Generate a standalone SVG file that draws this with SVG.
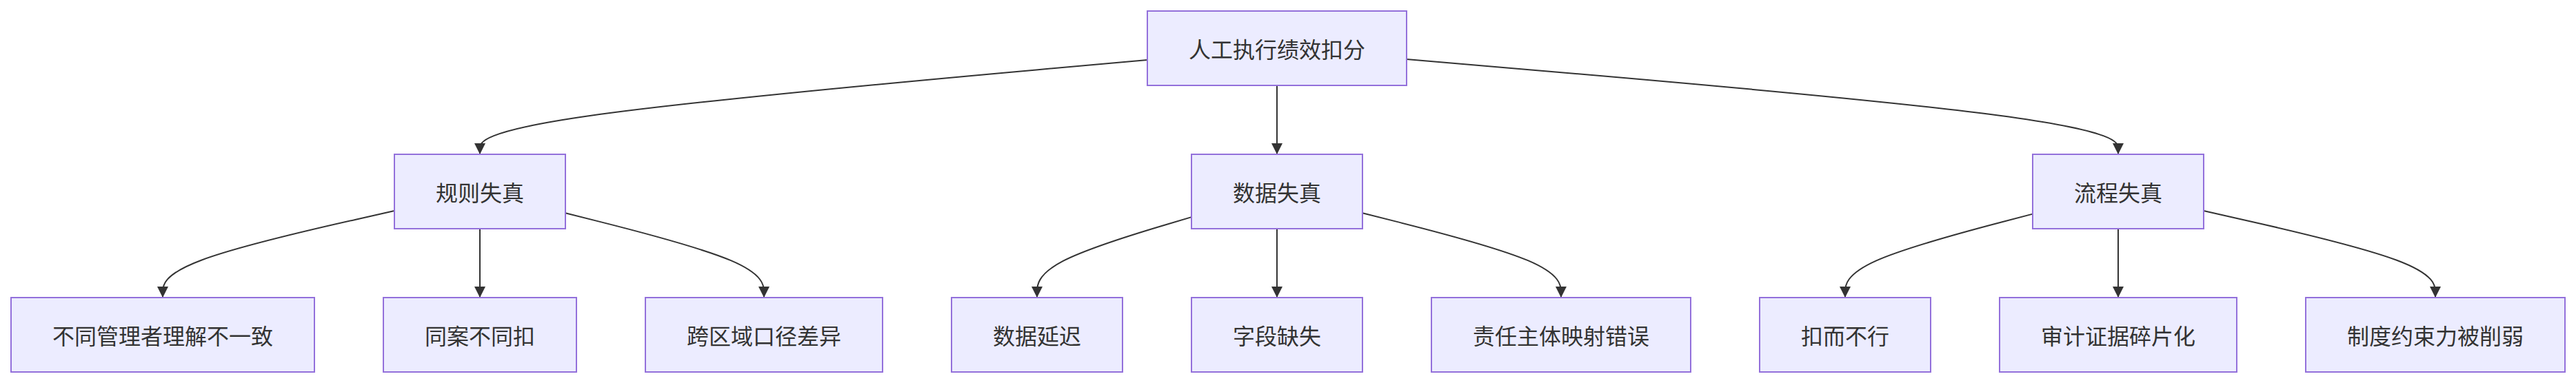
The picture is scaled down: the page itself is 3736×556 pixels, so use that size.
<svg xmlns="http://www.w3.org/2000/svg" width="3736" height="556" viewBox="0 0 3736 556">
<style>
.node rect{fill:#ECECFF;stroke:#9370DB;stroke-width:2}
.node text{font-family:"Noto Sans CJK SC","Noto Sans",sans-serif;font-size:32px;fill:#333333;text-anchor:middle;dominant-baseline:central}
.edge{fill:none;stroke:#333333;stroke-width:2;marker-end:url(#arrow)}
</style>
<defs>
<marker id="arrow" viewBox="0 0 10 10" refX="10" refY="5" markerUnits="userSpaceOnUse" markerWidth="16" markerHeight="16" orient="auto">
<path d="M0,0 L10,5 L0,10 z" fill="#333333"/>
</marker>
</defs>
<rect width="3736" height="556" fill="#ffffff"/>
<g id="connectors">
<path class="edge" d="M1664,86.9 L1502.7,101.4 C1341.3,115.9 1018.7,145 857.3,167.8 C696,190.7 696,207.3 696,215.7 L696,224"/>
<path class="edge" d="M1852,124 L1852,224"/>
<path class="edge" d="M2040,86 L2212,100.7 C2384,115.3 2728,144.7 2900,167.7 C3072,190.7 3072,207.3 3072,215.7 L3072,224"/>
<path class="edge" d="M572,306 L516,318.7 C460,331.3 348,356.7 292,377.7 C236,398.7 236,415.3 236,423.7 L236,432"/>
<path class="edge" d="M696,332 L696,432"/>
<path class="edge" d="M820,309.3 L868,321.4 C916,333.5 1012,357.8 1060,378.2 C1108,398.7 1108,415.3 1108,423.7 L1108,432"/>
<path class="edge" d="M1728,315.1 L1690.7,326.3 C1653.3,337.4 1578.7,359.7 1541.3,379.2 C1504,398.7 1504,415.3 1504,423.7 L1504,432"/>
<path class="edge" d="M1852,332 L1852,432"/>
<path class="edge" d="M1976,309.3 L2024,321.4 C2072,333.5 2168,357.8 2216,378.2 C2264,398.7 2264,415.3 2264,423.7 L2264,432"/>
<path class="edge" d="M2948,310.6 L2902.7,322.5 C2857.3,334.4 2766.7,358.2 2721.3,378.4 C2676,398.7 2676,415.3 2676,423.7 L2676,432"/>
<path class="edge" d="M3072,332 L3072,432"/>
<path class="edge" d="M3196,306 L3252,318.7 C3308,331.3 3420,356.7 3476,377.7 C3532,398.7 3532,415.3 3532,423.7 L3532,432"/>
</g>
<g id="root" class="node"><rect x="1664" y="16" width="376" height="108"/><text x="1852" y="70">人工执行绩效扣分</text></g>
<g id="rule" class="node"><rect x="572" y="224" width="248" height="108"/><text x="696" y="278">规则失真</text></g>
<g id="data" class="node"><rect x="1728" y="224" width="248" height="108"/><text x="1852" y="278">数据失真</text></g>
<g id="process" class="node"><rect x="2948" y="224" width="248" height="108"/><text x="3072" y="278">流程失真</text></g>
<g id="leaf1" class="node"><rect x="16" y="432" width="440" height="108"/><text x="236" y="486">不同管理者理解不一致</text></g>
<g id="leaf2" class="node"><rect x="556" y="432" width="280" height="108"/><text x="696" y="486">同案不同扣</text></g>
<g id="leaf3" class="node"><rect x="936" y="432" width="344" height="108"/><text x="1108" y="486">跨区域口径差异</text></g>
<g id="leaf4" class="node"><rect x="1380" y="432" width="248" height="108"/><text x="1504" y="486">数据延迟</text></g>
<g id="leaf5" class="node"><rect x="1728" y="432" width="248" height="108"/><text x="1852" y="486">字段缺失</text></g>
<g id="leaf6" class="node"><rect x="2076" y="432" width="376" height="108"/><text x="2264" y="486">责任主体映射错误</text></g>
<g id="leaf7" class="node"><rect x="2552" y="432" width="248" height="108"/><text x="2676" y="486">扣而不行</text></g>
<g id="leaf8" class="node"><rect x="2900" y="432" width="344" height="108"/><text x="3072" y="486">审计证据碎片化</text></g>
<g id="leaf9" class="node"><rect x="3344" y="432" width="376" height="108"/><text x="3532" y="486">制度约束力被削弱</text></g>
</svg>
